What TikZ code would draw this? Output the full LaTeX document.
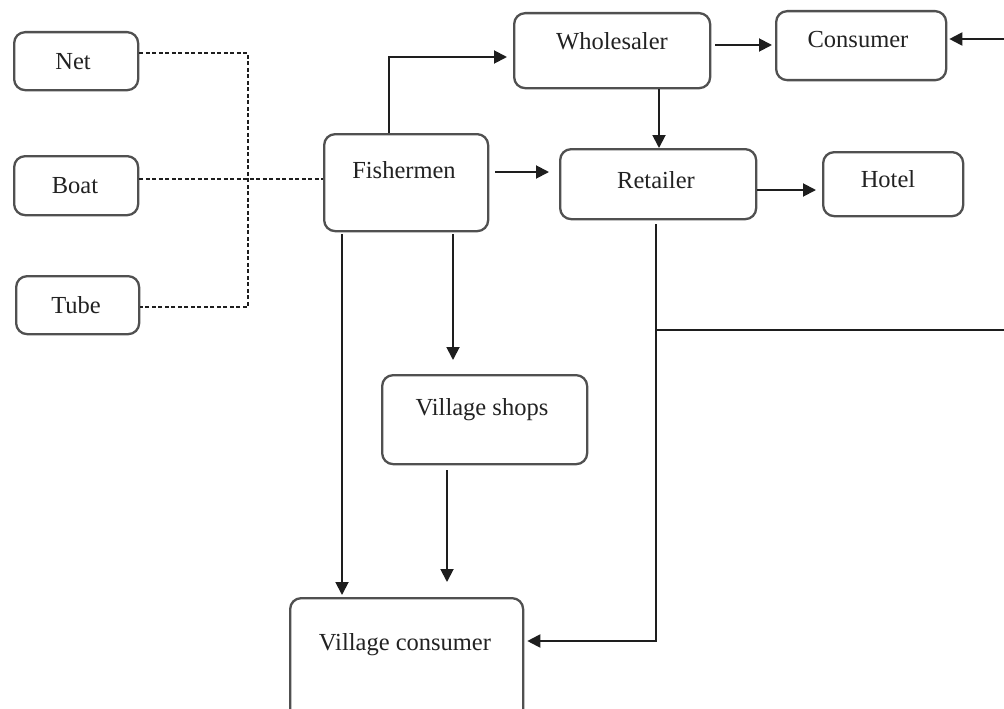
\documentclass[tikz,border=0pt]{standalone}
\usepackage{fontspec}
\setmainfont{Liberation Serif}
\usetikzlibrary{arrows.meta}
\definecolor{boxline}{HTML}{505050}
\definecolor{inkline}{HTML}{1E1E1E}
\definecolor{inktext}{HTML}{222222}
\begin{document}
\begin{tikzpicture}[x=1pt,y=-1pt,
  box/.style={draw=boxline, line width=2.3pt, rounded corners=11pt, anchor=north west,
    inner sep=0pt, fill=white},
  txt/.style={inner sep=0pt, text=inktext, font=\fontsize{24.5}{28}\selectfont,
    text height=16pt, text depth=0pt, anchor=center},
  arr/.style={draw=inkline, line width=1.9pt, -{Triangle[length=13pt,width=13pt]}},
  plain/.style={draw=inkline, line width=1.9pt},
  dsh/.style={draw=inkline, line width=1.5pt, dash pattern=on 4pt off 2.5pt}]
\fill[white] (0,0) rectangle (1004,709);
\useasboundingbox (0,0) rectangle (1004,709);

% equipment boxes
\node[box, minimum width=124pt, minimum height=58pt] (net)  at (13,31)  {};
\node[box, minimum width=124pt, minimum height=59pt] (boat) at (13,155) {};
\node[box, minimum width=123pt, minimum height=58pt] (tube) at (15,275) {};
\node[txt] (nett)  at (73,62)   {Net};
\node[txt] (boatt) at (75,185)  {Boat};
\node[txt] (tubet) at (76,305)  {Tube};

% market chain boxes
\node[box, minimum width=164pt, minimum height=97pt] (fish)   at (323,133) {};
\node[box, minimum width=196pt, minimum height=75pt] (whole)  at (513,12)  {};
\node[box, minimum width=196pt, minimum height=70pt] (retail) at (559,148) {};
\node[box, minimum width=170pt, minimum height=69pt] (cons)   at (775,10)  {};
\node[box, minimum width=140pt, minimum height=64pt] (hotel)  at (822,151) {};
\node[box, minimum width=205pt, minimum height=89pt] (shops)  at (381,374) {};
\node[box, minimum width=233pt, minimum height=123pt] (vcons) at (289,597) {};
\node[txt] (fisht)   at (404,170) {Fishermen};
\node[txt] (wholet)  at (612,41)  {Wholesaler};
\node[txt] (retailt) at (656,180) {Retailer};
\node[txt] (const)   at (858,40)  {Consumer};
\node[txt] (hotelt)  at (888,179) {Hotel};
\node[txt] (shopst)  at (482,407) {Village shops};
\node[txt] (vconst)  at (405,642) {Village consumer};

% routing points
\coordinate (jn) at (248,53);
\coordinate (jt) at (248,307);
\coordinate (jb) at (248,179);
\coordinate (fw) at (389,57);
\coordinate (fr) at (0,172);
\coordinate (wc) at (0,45);
\coordinate (edge) at (1004,39);
\coordinate (wr) at (659,0);
\coordinate (rh) at (0,190);
\coordinate (rv) at (656,641);
\coordinate (rx) at (656,330);
\coordinate (edge2) at (1004,330);
\coordinate (fv) at (342,0);
\coordinate (fs) at (453,0);
\coordinate (sv) at (447,0);

% equipment links
\draw[dsh] (net.east |- jn) -- (jn) -- (jt) -- (tube.east |- jt);
\draw[dsh] (boat.east |- jb) -- (fish.west |- jb);

% product flow
\draw[arr] (fish.north -| fw) -- (fw) -- ([xshift=-6pt]whole.west |- fw);
\draw[arr] ([xshift=6pt]fish.east |- fr) -- ([xshift=-10pt]retail.west |- fr);
\draw[arr] ([xshift=4pt]whole.east |- wc) -- ([xshift=-3pt]cons.west |- wc);
\draw[arr] (edge) -- ([xshift=2pt]cons.east |- edge);
\draw[arr] (whole.south -| wr) -- (retail.north -| wr);
\draw[arr] (retail.east |- rh) -- ([xshift=-6pt]hotel.west |- rh);
\draw[arr] ([yshift=-4pt]retail.south -| rv) -- (rv) -- ([xshift=3pt]vcons.east |- rv);
\draw[plain] (rx) -- (edge2);
\draw[arr] ([yshift=-2pt]fish.south -| fv) -- ([yshift=2pt]vcons.north -| fv);
\draw[arr] ([yshift=-2pt]fish.south -| fs) -- ([yshift=14pt]shops.north -| fs);
\draw[arr] ([yshift=-5pt]shops.south -| sv) -- ([yshift=15pt]vcons.north -| sv);
\end{tikzpicture}
\end{document}
